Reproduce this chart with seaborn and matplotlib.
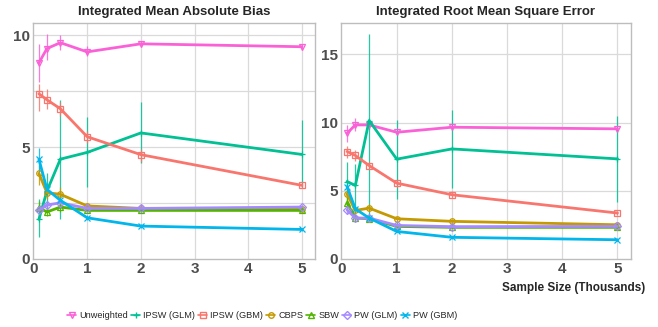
import numpy as np
import pandas as pd
import seaborn as sns
import matplotlib
matplotlib.use("Agg")
import matplotlib.pyplot as plt
from matplotlib.lines import Line2D

sns.set_theme(style="white")
plt.rcParams['font.family'] = ['Liberation Sans Narrow', 'Liberation Sans', 'DejaVu Sans']

### Data
sizes = [0.1, 0.25, 0.5, 1, 2, 5]
methods = ["Unweighted", "IPSW (GLM)", "IPSW (GBM)", "CBPS", "SBW", "PW (GLM)", "PW (GBM)"]
colors = ["#FB61D7", "#00C094", "#F8766D", "#C49A00", "#53B400", "#A58AFF", "#00B6EB"]
markers = ["v", "+", "s", "o", "^", "D", "x"]

# integrated mean absolute bias: mean, low, high
mab_mean = {
    "Unweighted": [8.76, 9.40, 9.66, 9.25, 9.61, 9.48],
    "IPSW (GLM)": [1.77, 3.04, 4.46, 4.76, 5.63, 4.67],
    "IPSW (GBM)": [7.38, 7.11, 6.71, 5.46, 4.66, 3.29],
    "CBPS": [3.82, 2.96, 2.89, 2.37, 2.26, 2.22],
    "SBW": [2.29, 2.10, 2.32, 2.17, 2.17, 2.17],
    "PW (GLM)": [2.17, 2.41, 2.51, 2.26, 2.26, 2.32],
    "PW (GBM)": [4.46, 3.11, 2.62, 1.84, 1.47, 1.32],
}
mab_lo = {
    "Unweighted": [7.9, 8.9, 9.35, 9.05, 9.45, 9.35],
    "IPSW (GLM)": [1.0, 2.1, 1.8, 3.2, 4.3, 3.2],
    "IPSW (GBM)": [6.6, 6.7, 6.4, 5.2, 4.35, 3.15],
    "CBPS": [3.3, 2.7, 2.7, 2.2, 2.1, 2.1],
    "SBW": [1.9, 1.9, 2.1, 2.05, 2.05, 2.05],
    "PW (GLM)": [2.0, 2.3, 2.4, 2.2, 2.2, 2.25],
    "PW (GBM)": [3.9, 2.8, 2.45, 1.75, 1.4, 1.25],
}
mab_hi = {
    "Unweighted": [9.6, 10.05, 10.0, 9.5, 9.75, 9.6],
    "IPSW (GLM)": [2.7, 3.85, 7.1, 6.35, 7.0, 6.2],
    "IPSW (GBM)": [7.8, 7.6, 7.0, 5.7, 4.9, 3.4],
    "CBPS": [4.2, 3.2, 3.2, 2.5, 2.4, 2.4],
    "SBW": [2.6, 2.4, 2.5, 2.3, 2.3, 2.3],
    "PW (GLM)": [2.4, 2.5, 2.6, 2.35, 2.35, 2.4],
    "PW (GBM)": [4.95, 3.4, 2.8, 1.95, 1.55, 1.4],
}

# integrated root mean square error: mean, low, high
rmse_mean = {
    "Unweighted": [9.22, 9.83, 9.83, 9.29, 9.66, 9.54],
    "IPSW (GLM)": [5.68, 5.39, 10.15, 7.32, 8.07, 7.34],
    "IPSW (GBM)": [7.88, 7.59, 6.85, 5.56, 4.71, 3.37],
    "CBPS": [4.76, 3.56, 3.73, 2.95, 2.76, 2.51],
    "SBW": [4.1, 3.0, 2.95, 2.39, 2.32, 2.32],
    "PW (GLM)": [3.6, 3.0, 3.0, 2.46, 2.37, 2.39],
    "PW (GBM)": [5.3, 3.68, 3.0, 2.02, 1.59, 1.41],
}
rmse_lo = {
    "Unweighted": [8.6, 9.4, 9.5, 9.1, 9.5, 9.35],
    "IPSW (GLM)": [4.3, 3.8, 3.0, 4.4, 5.2, 4.2],
    "IPSW (GBM)": [7.4, 7.2, 6.6, 5.3, 4.5, 3.2],
    "CBPS": [4.4, 3.3, 3.5, 2.8, 2.6, 2.4],
    "SBW": [3.6, 2.8, 2.8, 2.25, 2.2, 2.2],
    "PW (GLM)": [3.3, 2.9, 2.9, 2.35, 2.3, 2.3],
    "PW (GBM)": [4.8, 3.4, 2.8, 1.95, 1.5, 1.3],
}
rmse_hi = {
    "Unweighted": [9.8, 10.3, 10.1, 9.5, 9.85, 9.7],
    "IPSW (GLM)": [7.1, 7.0, 16.5, 10.2, 10.9, 10.5],
    "IPSW (GBM)": [8.3, 8.0, 7.1, 5.8, 4.95, 3.55],
    "CBPS": [5.1, 3.8, 4.0, 3.1, 2.9, 2.65],
    "SBW": [4.6, 3.2, 3.1, 2.5, 2.45, 2.45],
    "PW (GLM)": [3.9, 3.1, 3.1, 2.55, 2.45, 2.45],
    "PW (GBM)": [5.6, 3.9, 3.2, 2.1, 1.7, 1.5],
}

tick_col = "#4d4d4d"
grid_col = "#dadada"


def draw_panel(ax, mean, lo, hi, title, ymax, ygrid, yticks):
    for m, c, mk in zip(methods, colors, markers):
        df = pd.DataFrame({"size": sizes, "value": mean[m]})
        ax.vlines(sizes, lo[m], hi[m], color=c, lw=0.9, alpha=0.85, zorder=2)
        sns.lineplot(data=df, x="size", y="value", color=c, lw=2, marker=mk,
                     markersize=4, mec=c, mfc="none", mew=0.9, ax=ax, zorder=3)
    ax.set_xlim(-0.01, 5.245)
    ax.set_ylim(0, ymax)
    for g in ygrid:
        ax.axhline(g, color=grid_col, lw=0.9, zorder=0)
    for g in range(1, 6):
        ax.axvline(g, color=grid_col, lw=0.9, zorder=0)
    ax.set_xticks(range(6))
    ax.set_yticks(yticks)
    ax.tick_params(length=0, labelsize=11, labelcolor=tick_col, pad=2)
    for lab in ax.get_xticklabels() + ax.get_yticklabels():
        lab.set_fontweight("bold")
    for s in ax.spines.values():
        s.set_color("#bdbdbd")
        s.set_linewidth(1.0)
    ax.set_xlabel("")
    ax.set_ylabel("")
    ax.set_title(title, fontsize=9.5, fontweight="bold", pad=6)


fig = plt.figure(figsize=(6.58, 3.27), dpi=100)
ax1 = fig.add_axes([33 / 658, 68 / 327, 282 / 658, 236 / 327])
ax2 = fig.add_axes([341 / 658, 68 / 327, 290 / 658, 236 / 327])

draw_panel(ax1, mab_mean, mab_lo, mab_hi, "Integrated Mean Absolute Bias",
           10.54, [2.5, 5, 7.5, 10], [0, 5, 10])
draw_panel(ax2, rmse_mean, rmse_lo, rmse_hi, "Integrated Root Mean Square Error",
           17.3, [5, 10, 15], [0, 5, 10, 15])

fig.text(645 / 658, 1 - 288 / 327, "Sample Size (Thousands)", ha="right", va="center",
         fontsize=8.5, fontweight="bold")

handles = [Line2D([], [], color=c, marker=mk, lw=1.2, markersize=4, mec=c, mfc="none")
           for c, mk in zip(colors, markers)]
fig.legend(handles, methods, loc="center", bbox_to_anchor=(262 / 658, 1 - 316 / 327),
           ncol=7, frameon=False, fontsize=6.6, handlelength=1.0, handletextpad=0.3,
           columnspacing=0.35)

fig.savefig("out.png", dpi=100)
